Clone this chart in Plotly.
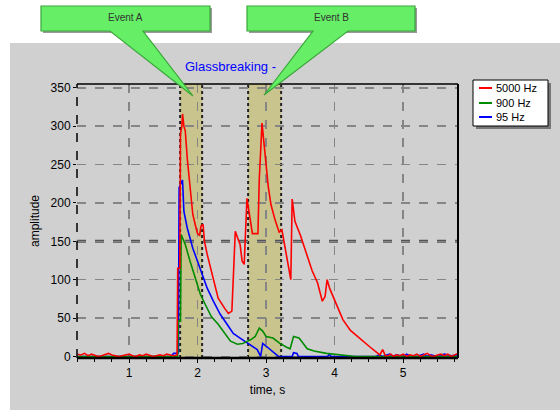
import plotly.graph_objects as go

# ---------------- data ----------------
series_names = ["5000 Hz", "900 Hz", "95 Hz"]
series_colors = ["#ff0000", "#008c00", "#0000ff"]

red_t = [0.25, 0.3, 0.35, 0.4, 0.45, 0.5, 0.55, 0.6, 0.65, 0.7, 0.75, 0.8, 0.85, 0.9, 0.95,
         1.0, 1.05, 1.1, 1.15, 1.2, 1.25, 1.3, 1.35, 1.4, 1.45, 1.5, 1.55, 1.6, 1.65, 1.7,
         1.71, 1.74, 1.75, 1.77, 1.78, 1.80, 1.82, 1.85, 1.89, 1.93, 1.97, 2.00, 2.03, 2.05,
         2.08, 2.10, 2.14, 2.21, 2.30, 2.40, 2.45, 2.50, 2.52, 2.55, 2.59, 2.62, 2.65, 2.68,
         2.72, 2.75, 2.78, 2.80, 2.88, 2.90, 2.94, 2.96, 2.99, 3.03, 3.07, 3.13, 3.19, 3.23,
         3.28, 3.35, 3.36, 3.38, 3.42, 3.50, 3.57, 3.67, 3.75, 3.82, 3.86, 3.89, 3.93, 4.03,
         4.12, 4.23, 4.37, 4.52, 4.66, 4.70, 4.74, 4.78, 4.82, 4.86, 4.9, 4.95, 5.0, 5.05,
         5.1, 5.15, 5.2, 5.25, 5.3, 5.35, 5.4, 5.45, 5.5, 5.55, 5.6, 5.65, 5.7, 5.75, 5.8]
red_v = [3, 2, 4, 1, 3, 2, 0, 1, 3, 4, 2, 1, 0, 1, 2,
         3, 1, 0, 2, 1, 3, 2, 0, 1, 2, 1, 3, 2, 1, 2,
         115, 115, 290, 300, 316, 300, 294, 257, 219, 185, 170, 160, 158, 170,
         172, 150, 133, 107, 76, 62, 56, 59, 98, 163, 153, 146, 124, 120,
         206, 187, 174, 160, 160, 231, 304, 285, 260, 222, 198, 178, 162, 165,
         140, 104, 100, 205, 176, 158, 140, 112, 96, 72, 78, 100, 88, 68,
         48, 34, 23, 12, 2, 9, 1, 1, 3, 0, 2, 1, 3, 0,
         2, 1, 3, 0, 2, 4, 1, 0, 2, 3, 1, 3, 0, 2, 4]

green_t = [0.25, 1.0, 1.70, 1.71, 1.72, 1.75, 1.76, 1.82, 1.89, 1.97, 2.04, 2.11, 2.20,
           2.30, 2.40, 2.48, 2.58, 2.66, 2.73, 2.78, 2.84, 2.90, 2.95, 3.00, 3.10, 3.20,
           3.30, 3.35, 3.40, 3.48, 3.60, 3.70, 3.88, 4.00, 4.15, 4.30, 5.8]
green_v = [0, 0, 0, 0, 46, 46, 159, 146, 124, 102, 81, 68, 52,
           42, 30, 20, 16, 17, 20, 22, 26, 37, 33, 26, 24, 17,
           12, 10, 26, 24, 10, 7, 4, 3, 1, 0, 0]

blue_t = [0.25, 0.6, 1.0, 1.4, 1.6, 1.62, 1.65, 1.70, 1.72, 1.73, 1.76, 1.78, 1.80, 1.85,
          1.93, 2.04, 2.14, 2.23, 2.33, 2.43, 2.52, 2.62, 2.74, 2.87, 2.92, 2.95, 3.02,
          3.10, 3.18, 3.38, 3.40, 3.45, 3.47, 3.90, 3.92, 3.95, 4.6, 4.65, 4.7, 4.8, 4.85,
          4.9, 5.0, 5.05, 5.1, 5.2, 5.3, 5.35, 5.4, 5.5, 5.6, 5.7, 5.8]
blue_v = [0, 0, 0, 0, 0, 1, 4, 4, 5, 220, 226, 230, 189, 167,
          141, 115, 89, 72, 55, 42, 30, 24, 17, 9, 0, 17, 12,
          6, 0, 0, 5, 4, 0, 0, 3, 0, 0, 2, 0, 3, 0,
          2, 0, 3, 1, 0, 3, 0, 2, 0, 3, 1, 2]

event_names = ["Event A", "Event B"]
event_start = [1.745, 2.737]
event_end = [2.066, 3.219]
threshold = 150
chart_title = "Glassbreaking -"
x_title = "time, s"
y_title = "amplitude"
x_ticks = [1, 2, 3, 4, 5]
y_ticks = [0, 50, 100, 150, 200, 250, 300, 350]

# ---------------- geometry helpers (pixels -> paper) ----------------
W, H = 560, 410
L, R, T, B = 77, 458, 84, 358


def PX(px):
    return (px - L) / (R - L)


def PY(py):
    return (B - py) / (B - T)


FONT = "Liberation Sans, Arial, sans-serif"
BG = "#d0d0d0"

fig = go.Figure()
all_t = [red_t, green_t, blue_t]
all_v = [red_v, green_v, blue_v]
# draw blue, green, then red on top
for i in [2, 1, 0]:
    fig.add_trace(go.Scatter(x=all_t[i], y=all_v[i], mode="lines", name=series_names[i],
                             line=dict(color=series_colors[i], width=1.6, shape="linear"),
                             showlegend=False, hoverinfo="skip"))

shapes = []
# grey background panel
shapes.append(dict(type="rect", xref="paper", yref="paper", x0=PX(10), x1=PX(562),
                   y0=PY(412), y1=PY(43), fillcolor=BG, line=dict(width=0), layer="below"))
# event bands
for s, e in zip(event_start, event_end):
    shapes.append(dict(type="rect", xref="x", yref="paper", x0=s, x1=e, y0=0, y1=1,
                       fillcolor="#c9c48e", line=dict(width=0), layer="below"))
    for xx in (s, e):
        shapes.append(dict(type="line", xref="x", yref="paper", x0=xx, x1=xx, y0=0, y1=1,
                           line=dict(color="#222222", width=2, dash="dot"), layer="below"))
# threshold line
shapes.append(dict(type="line", xref="paper", yref="y", x0=0, x1=1, y0=threshold, y1=threshold,
                   line=dict(color="#555555", width=3, dash="dash"), layer="below"))
# frame
shapes.append(dict(type="line", xref="paper", yref="paper", x0=0, x1=1, y0=1, y1=1,
                   line=dict(color="black", width=1.5)))
shapes.append(dict(type="line", xref="paper", yref="paper", x0=1, x1=1, y0=0, y1=1,
                   line=dict(color="black", width=2)))
shapes.append(dict(type="line", xref="paper", yref="paper", x0=0, x1=1, y0=0, y1=0,
                   line=dict(color="black", width=2.5)))
shapes.append(dict(type="line", xref="paper", yref="paper", x0=0, x1=0, y0=0, y1=1,
                   line=dict(color="black", width=1.5, dash="dash")))


# callouts
def callout(bx0, bx1, by0, by1, base0, base1, tipx, tipy):
    return ("M {},{} L {},{} L {},{} L {},{} L {},{} L {},{} L {},{} Z".format(
        PX(bx0), PY(by0), PX(bx1), PY(by0), PX(bx1), PY(by1), PX(base1), PY(by1),
        PX(tipx), PY(tipy), PX(base0), PY(by1), PX(bx0), PY(by1)))


callout_geo = [(41, 210, 6, 31, 110, 143, 193, 96), (247, 415, 6, 31, 313, 348, 264, 95)]
for g in callout_geo:
    shapes.append(dict(type="rect", xref="paper", yref="paper", x0=PX(g[0] + 2), x1=PX(g[1] + 2),
                       y0=PY(g[3] + 2), y1=PY(g[2] + 2), fillcolor="#9a9a9a", line=dict(width=0)))
for g in callout_geo:
    shapes.append(dict(type="path", xref="paper", yref="paper", path=callout(*g),
                       fillcolor="#66ee66", line=dict(color="#3aa63a", width=1.2)))

# manual legend
shapes.append(dict(type="rect", xref="paper", yref="paper", x0=PX(476), x1=PX(551),
                   y0=PY(129), y1=PY(83), fillcolor="#777777", line=dict(width=0)))
shapes.append(dict(type="rect", xref="paper", yref="paper", x0=PX(473), x1=PX(548),
                   y0=PY(126), y1=PY(80), fillcolor="white", line=dict(color="black", width=1)))
legend_rows = [88, 103, 117]
annotations = []
for i, yy in enumerate(legend_rows):
    shapes.append(dict(type="line", xref="paper", yref="paper", x0=PX(479), x1=PX(492),
                       y0=PY(yy), y1=PY(yy), line=dict(color=series_colors[i], width=2)))
    annotations.append(dict(xref="paper", yref="paper", x=PX(494), y=PY(yy), text=series_names[i],
                            showarrow=False, xanchor="left", yanchor="middle",
                            font=dict(family=FONT, size=11, color="black")))

event_text_x = [125, 331]
for name, tx in zip(event_names, event_text_x):
    annotations.append(dict(xref="paper", yref="paper", x=PX(tx), y=PY(18), text=name,
                            showarrow=False, xanchor="center", yanchor="middle",
                            font=dict(family=FONT, size=10, color="#333333")))
annotations.append(dict(xref="paper", yref="paper", x=PX(183), y=PY(66), text=chart_title,
                        showarrow=False, xanchor="left", yanchor="middle",
                        font=dict(family=FONT, size=13, color="#0000ff")))

fig.update_layout(
    width=W, height=H,
    margin=dict(l=L, r=W - R, t=T, b=H - B, autoexpand=False),
    paper_bgcolor="white", plot_bgcolor=BG,
    showlegend=False,
    shapes=shapes, annotations=annotations,
    font=dict(family=FONT, size=12, color="black"),
)
fig.update_xaxes(range=[0.24, 5.8], tickvals=x_ticks, showgrid=True, gridcolor="#858585",
                 gridwidth=1.5, griddash="dash", zeroline=False, showline=False,
                 ticks="outside", ticklen=4, tickcolor="black", tickwidth=1,
                 minor=dict(dtick=0.25, tick0=0, ticks="outside", ticklen=3, tickcolor="black",
                            showgrid=False),
                 tickfont=dict(family=FONT, size=12, color="black"),
                 title=dict(text=x_title, standoff=6, font=dict(family=FONT, size=12)))
fig.update_yaxes(range=[-2, 355], tickvals=y_ticks, showgrid=True, gridcolor="#858585",
                 gridwidth=1.5, griddash="dash", zeroline=False, showline=False,
                 ticks="outside", ticklen=3, tickcolor="black",
                 tickfont=dict(family=FONT, size=12, color="black"),
                 title=dict(text=y_title, standoff=8, font=dict(family=FONT, size=12)))

fig.write_html("out.html", config={"displayModeBar": False, "staticPlot": True},
               post_script="document.body.style.margin='0px';document.body.style.overflow='hidden';")
